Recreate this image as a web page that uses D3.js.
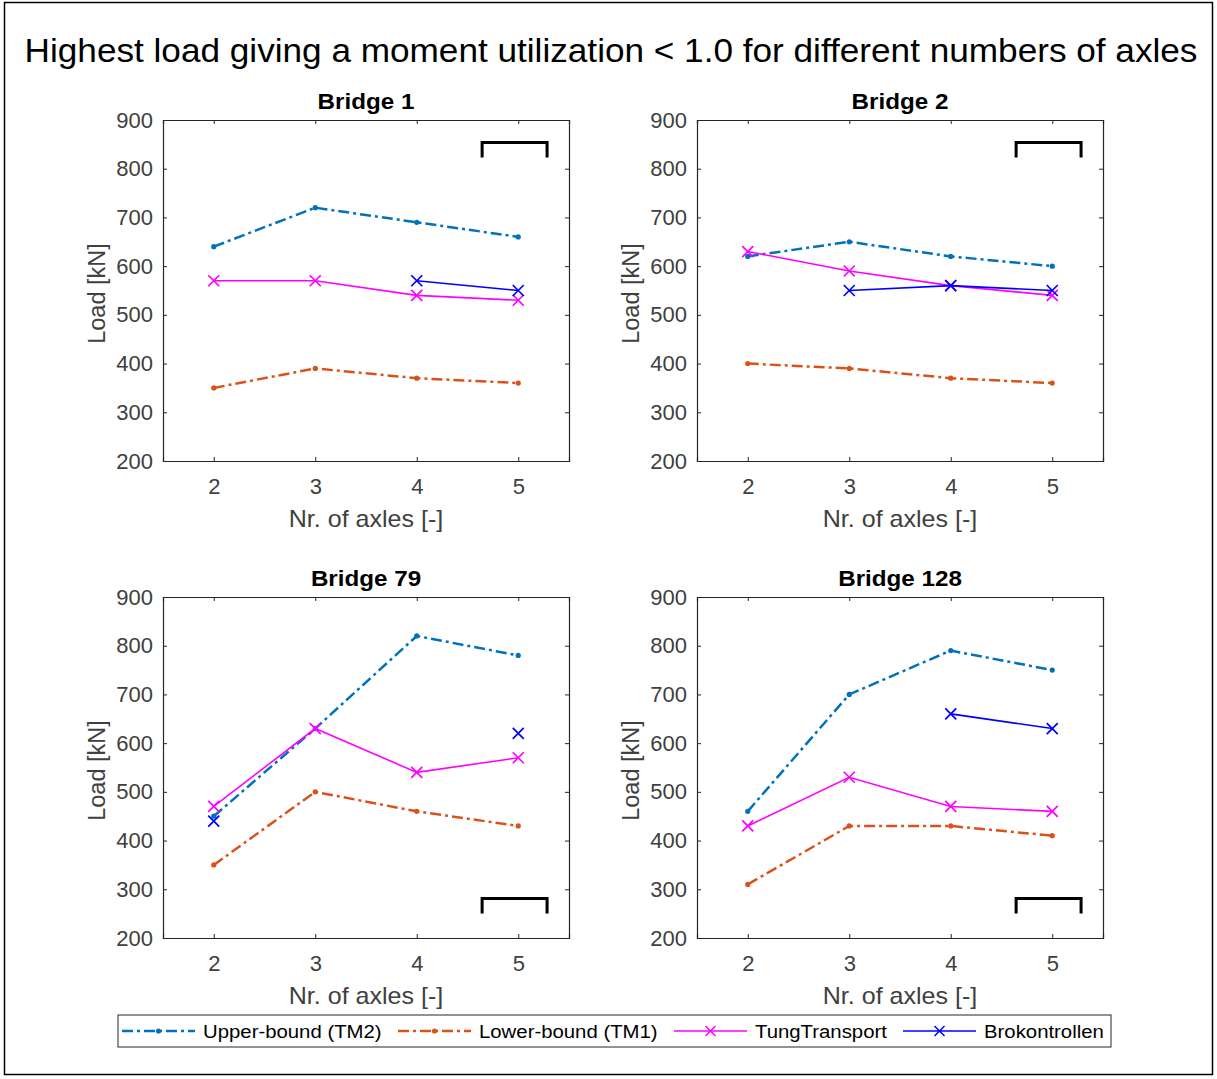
<!DOCTYPE html>
<html>
<head>
<meta charset="utf-8">
<script src="https://cdn.jsdelivr.net/npm/d3@7"></script>
<style>
  html, body { margin: 0; padding: 0; background: #fff; }
  svg { display: block; font-family: "Liberation Sans", Arial, sans-serif; }
</style>
</head>
<body>
<svg id="chart" width="1217" height="1079"></svg>
<script>
// Number of axles on the x axis
const axles = [2, 3, 4, 5];
const yTicks = [200, 300, 400, 500, 600, 700, 800, 900];
const bridges = ["Bridge 1", "Bridge 2", "Bridge 79", "Bridge 128"];

// Highest load [kN] per bridge, one value per axle count (null = no result)
const upperBound = [
  [640, 720, 690, 660],
  [620, 650, 620, 600],
  [450, 630, 820, 780],
  [460, 700, 790, 750]
];
const lowerBound = [
  [350, 390, 370, 360],
  [400, 390, 370, 360],
  [350, 500, 460, 430],
  [310, 430, 430, 410]
];
const tungTransport = [
  [570, 570, 540, 530],
  [630, 590, 560, 540],
  [470, 630, 540, 570],
  [430, 530, 470, 460]
];
const brokontrollen = [
  [null, null, 570, 550],
  [null, 550, 560, 550],
  [440, null, null, 620],
  [null, null, 660, 630]
];

const seriesNames = ["Upper-bound (TM2)", "Lower-bound (TM1)", "TungTransport", "Brokontrollen"];
const seriesData = [upperBound, lowerBound, tungTransport, brokontrollen];
const seriesStyle = [
  { color: "#0072BD", dash: "11,4,3,4", width: 2.5, marker: "dot" },
  { color: "#D95319", dash: "11,4,3,4", width: 2.5, marker: "dot" },
  { color: "#FF00FF", dash: null, width: 1.6, marker: "x" },
  { color: "#0000FF", dash: null, width: 1.6, marker: "x" }
];
// corner of each panel holding the empty bracket box
const bracketAtTop = [true, true, false, false];

const svg = d3.select("#chart");
const axisColor = "#262626";
const tickColor = "#404040";

// text helper with a slight horizontal stretch (wide Helvetica look)
function label(parent, x, y, str, size, stretch, opts = {}) {
  const t = parent.append("text")
    .attr("transform", `translate(${x},${y})${opts.rotate ? ` rotate(${opts.rotate})` : ""} scale(${stretch},1)`)
    .attr("text-anchor", opts.anchor || "middle")
    .attr("font-size", size)
    .attr("fill", opts.fill || "#000")
    .text(str);
  if (opts.bold) t.attr("font-weight", "bold");
  return t;
}

// outer frame
svg.append("rect")
  .attr("x", 4.5).attr("y", 2.5).attr("width", 1208).attr("height", 1072)
  .attr("fill", "none").attr("stroke", "#000").attr("stroke-width", 1.5);

label(svg, 611, 62, "Highest load giving a moment utilization < 1.0 for different numbers of axles", 33.5, 1.05);

const panelW = 406, panelH = 341;
const panelPos = [
  { x: 163, y: 120 }, { x: 697, y: 120 },
  { x: 163, y: 597 }, { x: 697, y: 597 }
];

const xScale = d3.scaleLinear().domain([1.5, 5.5]).range([0, panelW]);
const yScale = d3.scaleLinear().domain([200, 900]).range([panelH, 0]);

function drawX(g, x, y, s, color, w) {
  g.append("path")
    .attr("d", `M${x - s},${y - s}L${x + s},${y + s}M${x - s},${y + s}L${x + s},${y - s}`)
    .attr("stroke", color).attr("stroke-width", w).attr("fill", "none");
}

bridges.forEach((name, bi) => {
  const p = panelPos[bi];
  const g = svg.append("g").attr("transform", `translate(${p.x},${p.y})`);

  // axes with inward ticks on all four sides
  const xb = d3.axisBottom(xScale).tickValues(axles).tickSize(-4).tickPadding(17).tickFormat(d3.format("d"));
  const xt = d3.axisTop(xScale).tickValues(axles).tickSize(-4).tickFormat("");
  const yl = d3.axisLeft(yScale).tickValues(yTicks).tickSize(-4).tickPadding(10);
  const yr = d3.axisRight(yScale).tickValues(yTicks).tickSize(-4).tickFormat("");

  const gxb = g.append("g").attr("transform", `translate(0,${panelH})`).call(xb);
  const gxt = g.append("g").call(xt);
  const gyl = g.append("g").call(yl);
  const gyr = g.append("g").attr("transform", `translate(${panelW},0)`).call(yr);
  [gxb, gxt, gyl, gyr].forEach(a => {
    a.select(".domain").attr("stroke", axisColor).attr("stroke-width", 1.2);
    a.selectAll(".tick line").attr("stroke", axisColor);
    a.selectAll("text").attr("font-size", 22).attr("fill", tickColor)
      .attr("font-family", "'Liberation Sans', Arial, sans-serif");
  });

  // panel title
  label(g, panelW / 2, -11, name, 22, 1.1, { bold: true });

  // axis labels
  label(g, panelW / 2, panelH + 66, "Nr. of axles [-]", 23, 1.09, { fill: tickColor });
  label(g, -58, panelH / 2 + 3, "Load [kN]", 23.5, 1.0, { fill: tickColor, rotate: -90 });

  // series
  seriesData.forEach((sd, si) => {
    const st = seriesStyle[si];
    const vals = sd[bi];
    const pts = axles.map((a, i) => ({ a, v: vals[i] }));
    const line = d3.line()
      .defined(d => d.v !== null)
      .x(d => xScale(d.a)).y(d => yScale(d.v));
    g.append("path")
      .datum(pts)
      .attr("d", line)
      .attr("fill", "none")
      .attr("stroke", st.color)
      .attr("stroke-width", st.width)
      .attr("stroke-dasharray", st.dash);
    pts.filter(d => d.v !== null).forEach(d => {
      const cx = xScale(d.a), cy = yScale(d.v);
      if (st.marker === "dot") {
        g.append("circle").attr("cx", cx).attr("cy", cy).attr("r", 2.6).attr("fill", st.color);
      } else {
        drawX(g, cx, cy, 5.5, st.color, 1.7);
      }
    });
  });

  // empty bracket box
  const bx0 = panelW * 0.786, bx1 = panelW * 0.946;
  const by0 = bracketAtTop[bi] ? panelH * 0.066 : panelH * 0.884;
  const by1 = by0 + 15;
  g.append("path")
    .attr("d", `M${bx0},${by1}L${bx0},${by0}L${bx1},${by0}L${bx1},${by1}`)
    .attr("fill", "none").attr("stroke", "#000").attr("stroke-width", 3);
});

// legend
const legend = svg.append("g");
legend.append("rect")
  .attr("x", 118).attr("y", 1015).attr("width", 993).attr("height", 32)
  .attr("fill", "#fff").attr("stroke", axisColor).attr("stroke-width", 1);
const legendX = [122, 398, 674, 903];
seriesNames.forEach((n, i) => {
  const st = seriesStyle[i];
  const x0 = legendX[i], x1 = x0 + 73, y = 1031;
  legend.append("line")
    .attr("x1", x0).attr("x2", x1).attr("y1", y).attr("y2", y)
    .attr("stroke", st.color).attr("stroke-width", st.width)
    .attr("stroke-dasharray", st.dash);
  const mx = (x0 + x1) / 2;
  if (st.marker === "dot") {
    legend.append("circle").attr("cx", mx).attr("cy", y).attr("r", 2.6).attr("fill", st.color);
  } else {
    drawX(legend, mx, y, 5, st.color, 1.5);
  }
  label(legend, x1 + 8, 1038, n, 18.5, 1.1, { anchor: "start" });
});
</script>
</body>
</html>
